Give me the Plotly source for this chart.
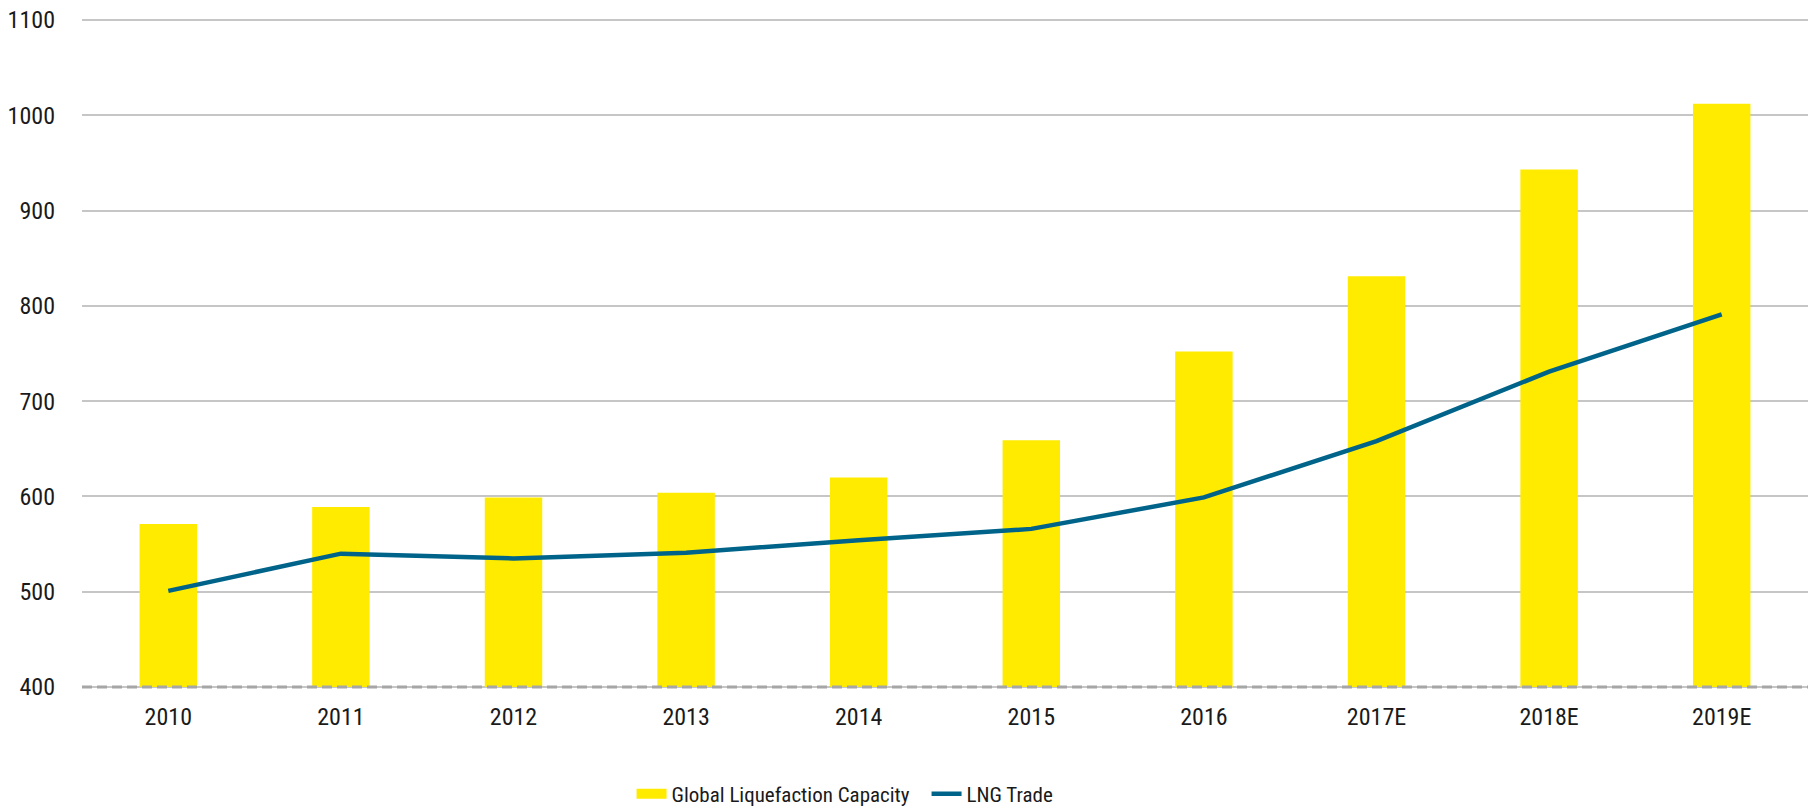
import plotly.graph_objects as go

years = ["2010", "2011", "2012", "2013", "2014", "2015", "2016", "2017E", "2018E", "2019E"]
capacity = [571, 589, 599, 604, 620, 659, 752, 831, 943, 1012]
lng_trade = [501, 540, 535, 541, 554, 566, 599, 658, 731, 791]
y_ticks = [400, 500, 600, 700, 800, 900, 1000, 1100]
y_min = 400

FONT = "Roboto Condensed, Liberation Sans Narrow, Arial Narrow, sans-serif"
YELLOW = "#FFEB00"
BLUE = "#00648A"

fig = go.Figure()
fig.add_trace(go.Bar(
    x=years, y=[c - y_min for c in capacity], base=y_min, name="Global Liquefaction Capacity",
    customdata=capacity, hovertemplate="%{x}: %{customdata}<extra></extra>",
    marker=dict(color=YELLOW, line=dict(width=0)), width=0.333, showlegend=False,
))
# legend swatch for the bars (wide rectangle like the reference)
fig.add_trace(go.Scatter(
    x=[None], y=[None], name="Global Liquefaction Capacity", mode="lines",
    line=dict(color=YELLOW, width=14), legendrank=1,
))
fig.add_trace(go.Scatter(
    x=years, y=lng_trade, name="LNG Trade", mode="lines",
    line=dict(color=BLUE, width=4.5), legendrank=2,
))

fig.add_shape(type="line", xref="paper", yref="y", x0=0, x1=1, y0=y_min, y1=y_min,
              line=dict(color="#A6A6A6", width=3, dash="10px,5px"), layer="above")

fig.update_layout(
    width=1816, height=810,
    margin=dict(l=82, r=8, t=18, b=121, autoexpand=False),
    paper_bgcolor="white", plot_bgcolor="white",
    font=dict(family=FONT, size=24, color="#1a1a1a"),
    showlegend=True,
    legend=dict(orientation="h", x=0.3184, xanchor="left", y=-0.1565, yanchor="middle",
                font=dict(family=FONT, size=21), entrywidth=250, entrywidthmode="pixels",
                tracegroupgap=0),
    xaxis=dict(type="category", showgrid=False, showline=False, ticks="",
               tickfont=dict(family=FONT, size=24), ticklabelstandoff=11),
    yaxis=dict(range=[398, 1102], tickvals=y_ticks, showgrid=True, gridcolor="#C6C6C6",
               gridwidth=1.5, zeroline=False, showline=False, ticks="",
               tickfont=dict(family=FONT, size=24), ticklabelstandoff=26),
)

fig.write_html("out.html", config={"displayModeBar": False},
               post_script="document.body.style.margin='0';document.body.style.overflow='hidden';")
